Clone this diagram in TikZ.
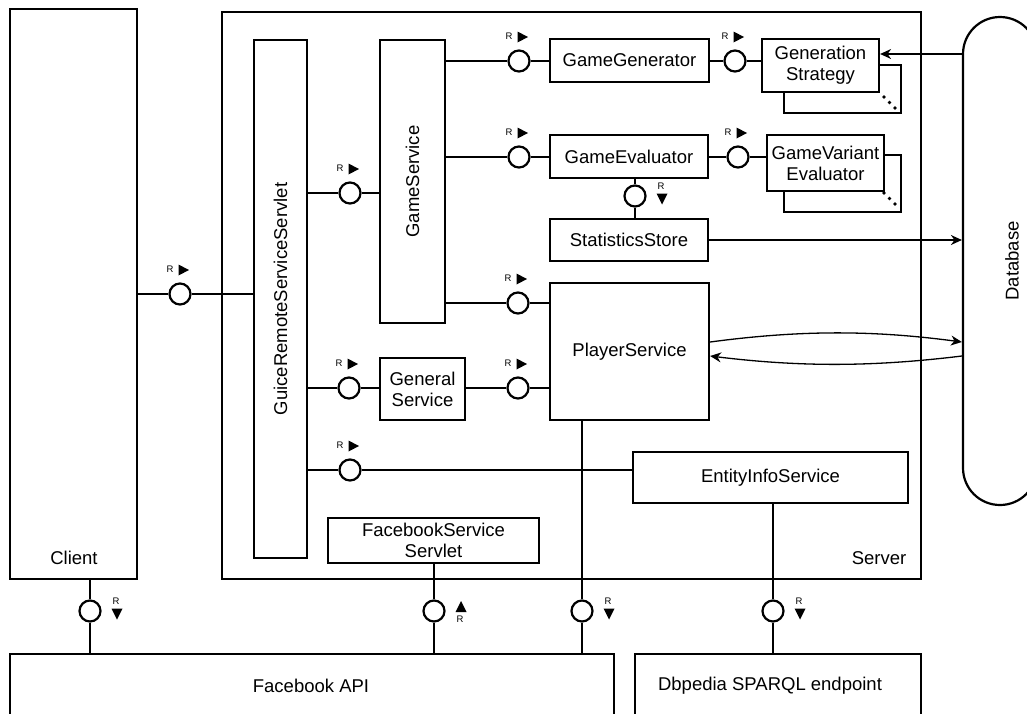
\documentclass[tikz,border=0pt]{standalone}
\usepackage{fontspec}
\usepackage{graphicx}
\setmainfont{Liberation Sans}
\usetikzlibrary{arrows.meta}
\begin{document}
\begin{tikzpicture}[x=1pt,y=-1pt,
  box/.style={draw, line width=2.2pt, inner sep=0pt, fill=white, align=center,
    font=\fontsize{18.5}{21}\selectfont},
  lbl/.style={inner sep=0pt, font=\fontsize{18.5}{21}\selectfont},
  chan/.style={draw, circle, line width=2.2pt, minimum size=21pt, inner sep=0pt, fill=white},
  conn/.style={line width=1.3pt},
  arr/.style={conn, -{Stealth[length=11pt, width=10pt]}},
  rl/.style={font=\fontsize{9.5}{10}\selectfont, inner sep=0pt},
  rr/.pic={\node[rl] at (-10,-25) {R}; \fill (-1.5,-29.5) -- (9,-24) -- (-1.5,-18.5) -- cycle;},
  rd/.pic={\node[rl] at (26,-10) {R}; \fill (21.5,-2.5) -- (32.5,-2.5) -- (27,8.5) -- cycle;},
  ru/.pic={\node[rl] at (26,8) {R}; \fill (21.5,1) -- (32.5,1) -- (27,-10) -- cycle;}
]
\useasboundingbox[fill=white] (0,0) rectangle (1027,713);

% outer blocks
\node[box, minimum width=127, minimum height=570] (cl) at (73.5,294) {};
\node[lbl] (cllbl) at (74,558) {Client};
\node[box, minimum width=699, minimum height=567] (sv) at (571.5,295.5) {};
\node[lbl] (svlbl) at (879,558) {Server};
\node[box, rounded corners=37pt, minimum width=74, minimum height=488] (db) at (1000,261)
  {\hspace{24pt}\rotatebox{90}{Database}};
\node[box, minimum width=604, minimum height=76] (fb) at (312,692) {};
\node[lbl] (fblbl) at (311,686) {Facebook API};
\node[box, minimum width=286, minimum height=76] (dbp) at (778,692) {};
\node[lbl] (dbplbl) at (770,686) {Dbpedia SPARQL endpoint};

% inner blocks
\node[box, minimum width=53, minimum height=518] (gu) at (280.5,299) {\rotatebox{90}{GuiceRemoteServiceServlet}};
\node[box, minimum width=65, minimum height=283] (gs) at (412.5,181.5) {\rotatebox{90}{GameService}};
\node[box, minimum width=159, minimum height=43] (gg) at (629.5,60.5) {GameGenerator};
\node[box, minimum width=117, minimum height=48] (gsrb) at (842.5,89) {};
\node[box, minimum width=117, minimum height=53] (gsr) at (820.5,65.5) {Generation\\Strategy};
\node[box, minimum width=158, minimum height=43] (ge) at (629,156.5) {GameEvaluator};
\node[box, minimum width=117, minimum height=57] (gveb) at (842.5,183.5) {};
\node[box, minimum width=117, minimum height=56] (gve) at (825.5,163) {GameVariant\\Evaluator};
\node[box, minimum width=158, minimum height=42] (ss) at (629,240) {StatisticsStore};
\node[box, minimum width=159, minimum height=137] (ps) at (629.5,351.5) {PlayerService};
\node[box, minimum width=85, minimum height=62] (gen) at (422.5,389) {General\\Service};
\node[box, minimum width=275, minimum height=51] (ei) at (770.5,477.5) {EntityInfoService};
\node[box, minimum width=211, minimum height=45] (fbs) at (433.5,540.5) {FacebookService\\Servlet};

% multiplicity dots
\foreach \p in {(884,97),(889.5,102.5),(895,108),(884,193),(889.5,198.5),(895,204)}
  \fill \p circle (1.9);

% channels
\node[chan] (c0) at (180,294) {};
\node[chan] (c1) at (350,193) {};
\node[chan] (c2) at (519,61) {};
\node[chan] (c3) at (735,61) {};
\node[chan] (c4) at (519,157) {};
\node[chan] (c5) at (738,157) {};
\node[chan] (c6) at (635,196) {};
\node[chan] (c7) at (518,303) {};
\node[chan] (c8) at (349,388) {};
\node[chan] (c9) at (518,388) {};
\node[chan] (c10) at (350,470) {};
\node[chan] (c11) at (90,611) {};
\node[chan] (c12) at (434,611) {};
\node[chan] (c13) at (582,611) {};
\node[chan] (c14) at (773,611) {};

\draw[conn] (cl.east |- c0) -- (c0) -- (c0 -| gu.west);
\draw[conn] (gu.east |- c1) -- (c1) -- (c1 -| gs.west);
\draw[conn] (gs.east |- c2) -- (c2) -- (c2 -| gg.west);
\draw[conn] (gg.east |- c3) -- (c3) -- (c3 -| gsr.west);
\draw[conn] (gs.east |- c4) -- (c4) -- (c4 -| ge.west);
\draw[conn] (ge.east |- c5) -- (c5) -- (c5 -| gve.west);
\draw[conn] (ge.south -| c6) -- (c6) -- (c6 |- ss.north);
\draw[conn] (gs.east |- c7) -- (c7) -- (c7 -| ps.west);
\draw[conn] (gu.east |- c8) -- (c8) -- (c8 -| gen.west);
\draw[conn] (gen.east |- c9) -- (c9) -- (c9 -| ps.west);
\draw[conn] (gu.east |- c10) -- (c10) -- (c10 -| ei.west);
\draw[conn] (cl.south -| c11) -- (c11) -- (c11 |- fb.north);
\draw[conn] (fbs.south -| c12) -- (c12) -- (c12 |- fb.north);
\draw[conn] (ps.south -| c13) -- (c13) -- (c13 |- fb.north);
\draw[conn] (ei.south -| c14) -- (c14) -- (c14 |- dbp.north);

\pic at (c0) {rr}; \pic at (c1) {rr}; \pic at (c2) {rr}; \pic at (c3) {rr};
\pic at (c4) {rr}; \pic at (c5) {rr}; \pic at (c7) {rr}; \pic at (c8) {rr};
\pic at (c9) {rr}; \pic at (c10) {rr};
\pic at (c6) {rd}; \pic at (c11) {rd}; \pic at (c13) {rd}; \pic at (c14) {rd};
\pic at (c12) {ru};

% data flows
\coordinate (gsin) at ([yshift=11.5pt]gsr.east);
\draw[arr] (gsin -| db.west) -- (gsin);
\draw[arr] (ss.east) -- (ss.east -| db.west);
\coordinate (psa) at ([yshift=9.5pt]ps.east);
\coordinate (psb) at ([yshift=-4.5pt]ps.east);
\draw[arr] (psa) .. controls +(90,-12) and +(-90,-12) .. (psa -| db.west);
\draw[arr] (psb -| db.west) .. controls +(-90,11) and +(90,11) .. (psb);
\end{tikzpicture}
\end{document}
